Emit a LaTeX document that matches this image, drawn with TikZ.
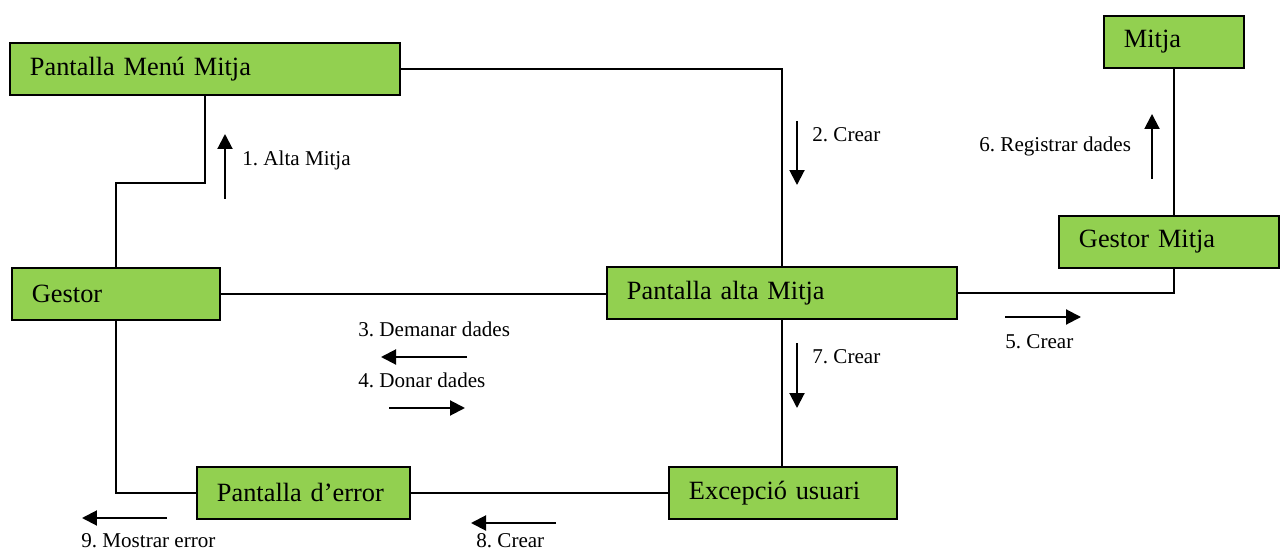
\documentclass[tikz,border=0pt]{standalone}
\usepackage{fontspec}
\setmainfont{Liberation Serif}
\usepackage{xcolor}
\usepackage{tikz}
\usetikzlibrary{arrows.meta,positioning,calc}
\definecolor{BOXGREEN}{RGB}{146,208,80}
\frenchspacing
\tikzstyle{RECTANGLE_1} = [rectangle, draw=black, fill=BOXGREEN, line width=1.1pt, anchor=north west, align=left, inner xsep=0.4cm, minimum height=1.04cm, font=\fontsize{15}{18}\selectfont]
\tikzstyle{LABEL} = [anchor=base west, inner sep=0pt, font=\fontsize{12}{14}\selectfont]
\tikzstyle{ARROW} = [line width=1.15pt, -{Triangle[length=0.3cm,width=0.3cm]}]
\tikzstyle{LINE} = [draw, line width=0.85pt]

\begin{document}
\begin{tikzpicture}[x=0.02cm, y=-0.02cm]
\useasboundingbox (0,0) rectangle (1280,550);
% Place node
\node [RECTANGLE_1, text width=7.0cm] (MENU) at (9,42) {Pantalla Menú Mitja};
\node [RECTANGLE_1, text width=2.0cm] (MITJA) at (1103,15) {Mitja};
\node [RECTANGLE_1, text width=3.6cm] (GESTORMITJA) at (1058,215) {Gestor Mitja};
\node [RECTANGLE_1, text width=3.36cm] (GESTOR) at (11,267) {Gestor};
\node [RECTANGLE_1, text width=6.2cm] (ALTA) at (606,266) {Pantalla alta Mitja};
\node [RECTANGLE_1, text width=3.46cm] (ERROR) at (196,466) {Pantalla d’error};
\node [RECTANGLE_1, text width=3.76cm] (EXCEPCIO) at (668,466) {Excepció usuari};
% LINES
\path [LINE] (MENU.south) -- ++(0,87) -| (GESTOR.north);
\path [LINE] (MENU.east) -| (ALTA.north);
\path [LINE] (GESTOR.east) -- (GESTOR.east -| ALTA.west);
\path [LINE] (ALTA.east) -| (MITJA.south |- GESTORMITJA.south);
\path [LINE] (MITJA.south) -- (MITJA.south |- GESTORMITJA.north);
\path [LINE] (ALTA.south) -- (ALTA.south |- EXCEPCIO.north);
\path [LINE] (EXCEPCIO.west) -- (EXCEPCIO.west -| ERROR.east);
\path [LINE] (ERROR.west) -| (GESTOR.south);
% messages
\draw [ARROW] (225,199) -- (225,134);
\node [LABEL] (L_1) at (242,166) {1. Alta Mitja};
\draw [ARROW] (797,121) -- (797,185);
\node [LABEL] (L_2) at (812,142) {2. Crear};
\draw [ARROW] (467,357) -- (381,357);
\node [LABEL] (L_3) at (358,337) {3. Demanar dades};
\draw [ARROW] (389,408) -- (465,408);
\node [LABEL] (L_4) at (358,387) {4. Donar dades};
\draw [ARROW] (1005,317) -- (1081,317);
\node [LABEL] (L_5) at (1005,348) {5. Crear};
\draw [ARROW] (1152,179) -- (1152,114);
\node [LABEL] (L_6) at (979,152) {6. Registrar dades};
\draw [ARROW] (797,343) -- (797,408);
\node [LABEL] (L_7) at (812,363) {7. Crear};
\draw [ARROW] (556,523) -- (471,523);
\node [LABEL] (L_8) at (476,547) {8. Crear};
\draw [ARROW] (167,518) -- (82,518);
\node [LABEL] (L_9) at (81,547) {9. Mostrar error};
\end{tikzpicture}
\end{document}
